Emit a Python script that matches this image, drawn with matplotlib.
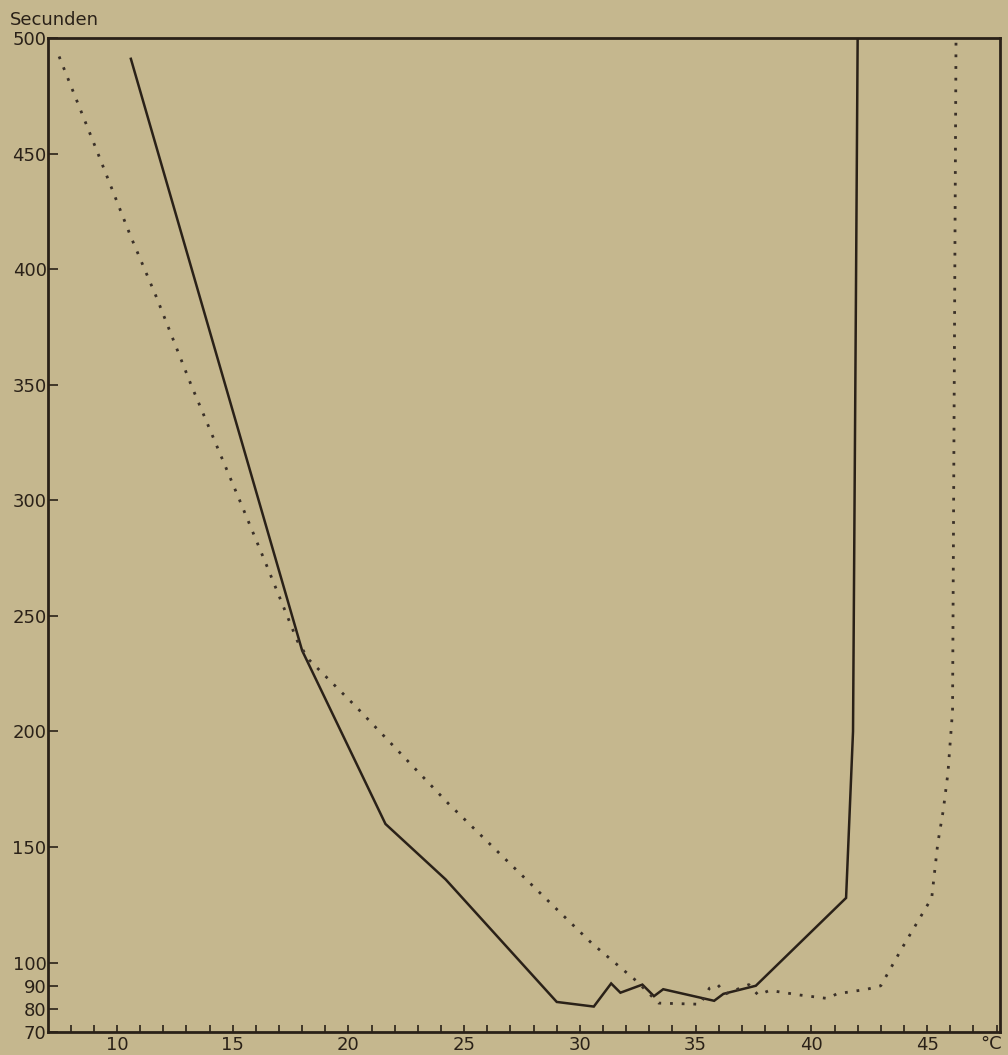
import matplotlib.pyplot as plt
from matplotlib.ticker import MultipleLocator

# Solid curve (temperature in degC, time in seconds)
solid_t = [10.6, 18.0, 21.6, 24.2, 29.0, 30.6, 31.35, 31.75, 32.7, 33.2,
           33.6, 35.8, 36.2, 37.6, 41.5, 41.8, 42.0]
solid_s = [491, 235, 160, 136, 83, 81, 91, 87, 90.5, 85.5,
           88.5, 83.5, 86.5, 90, 128, 200, 500]

# Dotted curve
dot_t = [7.5, 9.1, 10.6, 11.7, 13.2, 15.3, 16.5, 17.8, 18.3, 20.3, 24.3,
         28.6, 30.5, 32.45, 33.4, 35.2, 35.6, 35.95, 36.3, 37.3, 37.7,
         38.2, 39.5, 40.7, 41.1, 42.4, 43.0, 43.9, 44.55, 45.2, 45.46,
         45.7, 45.9, 46.1, 46.25]
dot_s = [492, 452, 414, 388, 350, 300, 271, 239, 231, 211, 169,
         127, 108.5, 92, 82.5, 82, 89, 90.5, 86.5, 90.5, 86,
         88, 86, 84.5, 86.5, 88.5, 90, 106, 117, 128, 151.5,
         166, 182, 209, 500]

y_ticks = [70, 80, 90, 100, 150, 200, 250, 300, 350, 400, 450, 500]
x_labels = [10, 15, 20, 25, 30, 35, 40, 45]

bg = "#c5b78e"
ink = "#2a2118"

fig = plt.figure(figsize=(10.08, 10.55), dpi=100, facecolor=bg)
ax = fig.add_axes([48 / 1008, 1 - 1032 / 1055, 952 / 1008, 994 / 1055])
ax.set_facecolor(bg)

ax.plot(solid_t, solid_s, color=ink, lw=1.8, solid_joinstyle="miter")
ax.plot(dot_t, dot_s, color="#3a3028", lw=2.0, linestyle=(0, (1, 3.2)))

ax.set_xlim(7.02, 48.15)
ax.set_ylim(70, 500)

ax.set_xticks(x_labels)
ax.xaxis.set_minor_locator(MultipleLocator(1))
ax.set_yticks(y_ticks)
ax.tick_params(axis="x", which="both", direction="in", length=5, width=1.2,
               color=ink, labelsize=13, labelcolor=ink, pad=3)
ax.tick_params(axis="y", direction="in", length=7, width=1.2, color=ink,
               labelsize=13, labelcolor=ink, pad=1)

for sp in ax.spines.values():
    sp.set_color(ink)
    sp.set_linewidth(2)

fig.text(10 / 1008, 1 - 20 / 1055, "Secunden", fontsize=13, color=ink,
         va="center", ha="left")
fig.text(991 / 1008, 1 - 1044 / 1055, "°C", fontsize=13, color=ink,
         va="center", ha="center")

fig.savefig("out.png", dpi=100, facecolor=bg)
